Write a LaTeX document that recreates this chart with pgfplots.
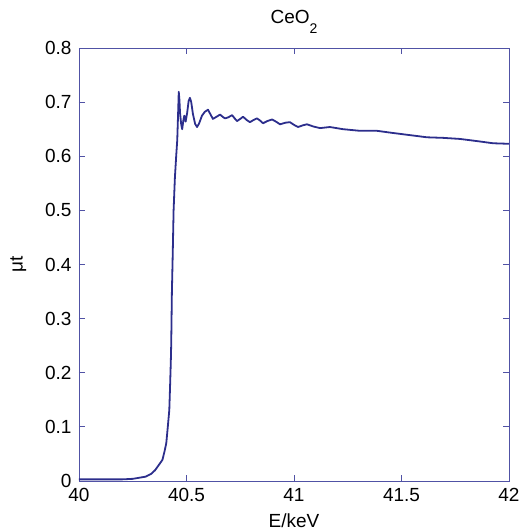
\documentclass[border=0pt]{standalone}
\usepackage{fontspec}
\setmainfont{Liberation Sans}
\usepackage{pgfplots}
\pgfplotsset{compat=1.18}

\definecolor{lineblue}{RGB}{44,46,140}
\definecolor{axisblue}{RGB}{80,82,165}

\begin{document}
\fontsize{19}{22}\selectfont
\begin{tikzpicture}
\begin{axis}[
  at={(0,0)}, anchor=south west,
  scale only axis,
  width=430pt, height=433pt,
  xmin=40, xmax=42, ymin=0, ymax=0.8,
  xtick={40,40.5,41,41.5,42},
  xticklabels={40,40.5,41,41.5,42},
  ytick={0,0.1,0.2,0.3,0.4,0.5,0.6,0.7,0.8},
  yticklabels={0,0.1,0.2,0.3,0.4,0.5,0.6,0.7,0.8},
  tick align=inside,
  major tick length=6pt,
  axis line style={draw=axisblue, line width=0.9pt},
  every tick/.style={draw=axisblue, line width=0.9pt},
  tick label style={font=\fontsize{19}{22}\selectfont, text=black},
  xticklabel style={yshift=-1pt},
  yticklabel style={xshift=-1pt},
  label style={font=\fontsize{19}{22}\selectfont},
  xlabel={E/keV},
  ylabel={μt},
  xlabel style={yshift=1pt},
  ylabel style={yshift=6pt},
  title={CeO\raisebox{-0.55em}{\fontsize{14}{14}\selectfont 2}},
  title style={font=\fontsize{19}{22}\selectfont, yshift=2pt},
  /pgf/number format/assume math mode=true,
]
\addplot[color=lineblue, line width=1.8pt, line join=round] coordinates {
  (40.00,0.003)(40.10,0.003)(40.20,0.003)(40.25,0.004)(40.28,0.006)
  (40.31,0.008)(40.335,0.013)(40.354,0.020)(40.372,0.030)(40.388,0.039)
  (40.398,0.055)(40.406,0.070)(40.413,0.100)(40.420,0.131)(40.424,0.180)
  (40.427,0.22)(40.429,0.254)(40.432,0.347)(40.436,0.42)(40.440,0.50)
  (40.446,0.56)(40.452,0.60)(40.457,0.63)(40.461,0.68)(40.464,0.719)
  (40.467,0.705)(40.470,0.68)(40.475,0.660)(40.480,0.650)(40.486,0.668)
  (40.490,0.675)(40.496,0.664)(40.503,0.680)(40.510,0.702)(40.516,0.708)
  (40.522,0.700)(40.530,0.678)(40.540,0.660)(40.549,0.654)(40.558,0.660)
  (40.572,0.675)(40.585,0.682)(40.600,0.686)(40.612,0.677)(40.623,0.669)
  (40.640,0.673)(40.656,0.677)(40.668,0.673)(40.679,0.670)(40.695,0.672)
  (40.712,0.676)(40.724,0.670)(40.735,0.665)(40.750,0.669)(40.763,0.673)
  (40.780,0.667)(40.795,0.663)(40.812,0.667)(40.828,0.670)(40.842,0.666)
  (40.856,0.661)(40.876,0.665)(40.898,0.668)(40.916,0.664)(40.935,0.659)
  (40.960,0.662)(40.981,0.663)(41.000,0.658)(41.019,0.654)(41.040,0.657)
  (41.060,0.659)(41.090,0.655)(41.121,0.652)(41.167,0.654)(41.228,0.650)
  (41.307,0.647)(41.386,0.647)(41.460,0.643)(41.540,0.639)(41.619,0.635)
  (41.693,0.634)(41.772,0.632)(41.851,0.628)(41.926,0.624)(42.000,0.623)
};
\end{axis}
\pgfresetboundingbox
\path (-79pt,-50pt) rectangle (447pt,481pt);
\end{tikzpicture}
\end{document}
